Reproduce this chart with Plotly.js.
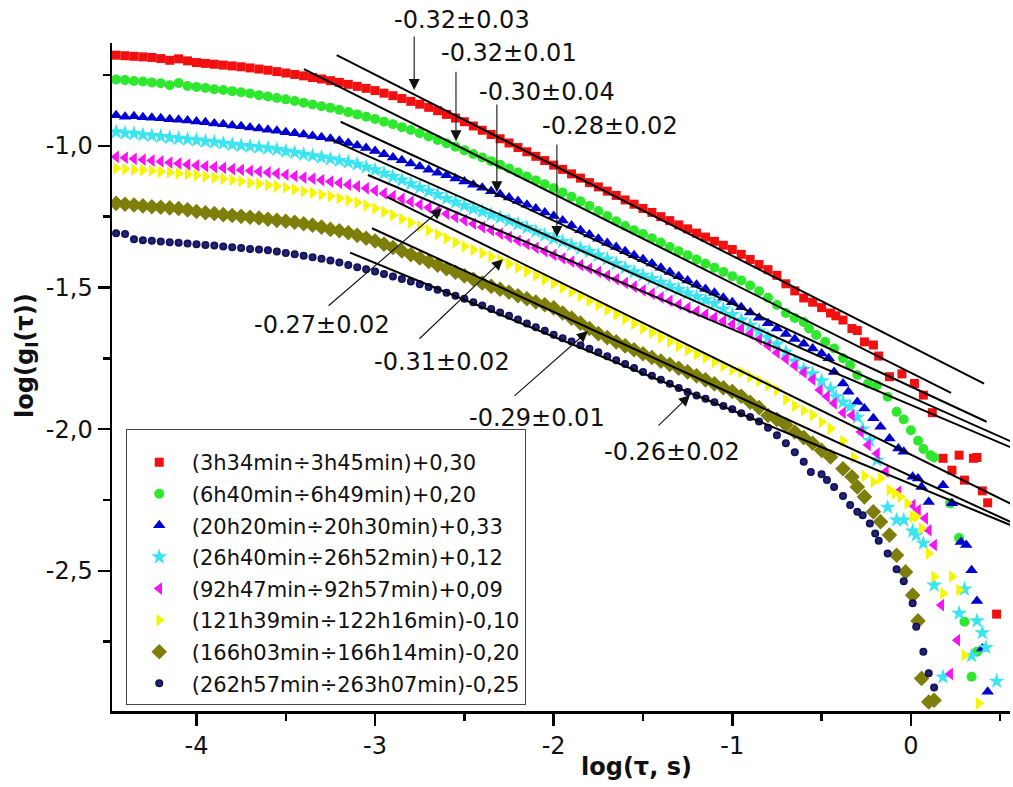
<!DOCTYPE html>
<html>
<head>
<meta charset="utf-8">
<script src="https://cdn.plot.ly/plotly-3.0.1.min.js"></script>
<style>html,body{margin:0;padding:0;background:#fff;}#chart{width:1013px;height:787px;}</style>
</head>
<body>
<div id="chart"></div>
<script>
// shared log(tau) grid of the dense part of every curve
const logTau = [-4.45,-4.40,-4.35,-4.30,-4.25,-4.20,-4.15,-4.10,-4.05,-4.00,-3.95,-3.90,-3.85,-3.80,-3.75,-3.70,-3.65,-3.60,-3.55,-3.50,-3.45,-3.40,-3.35,-3.30,-3.25,-3.20,-3.15,-3.10,-3.05,-3.00,-2.95,-2.90,-2.85,-2.80,-2.75,-2.70,-2.65,-2.60,-2.55,-2.50,-2.45,-2.40,-2.35,-2.30,-2.25,-2.20,-2.15,-2.10,-2.05,-2.00,-1.95,-1.90,-1.85,-1.80,-1.75,-1.70,-1.65,-1.60,-1.55,-1.50,-1.45,-1.40,-1.35,-1.30,-1.25,-1.20,-1.15,-1.10,-1.05,-1.00,-0.95,-0.90,-0.85,-0.80,-0.75,-0.70,-0.65,-0.60];

const seriesNames = ["(3h34min÷3h45min)+0,30","(6h40min÷6h49min)+0,20","(20h20min÷20h30min)+0,33","(26h40min÷26h52min)+0,12","(92h47min÷92h57min)+0,09","(121h39min÷122h16min)-0,10","(166h03min÷166h14min)-0,20","(262h57min÷263h07min)-0,25"];

// series 1 (red)
const redDense = [-0.680,-0.682,-0.684,-0.686,-0.688,-0.692,-0.698,-0.693,-0.700,-0.706,-0.709,-0.712,-0.715,-0.718,-0.721,-0.725,-0.729,-0.733,-0.738,-0.743,-0.748,-0.753,-0.759,-0.764,-0.770,-0.776,-0.783,-0.790,-0.797,-0.805,-0.814,-0.823,-0.833,-0.843,-0.853,-0.864,-0.876,-0.889,-0.902,-0.915,-0.930,-0.945,-0.960,-0.975,-0.990,-1.006,-1.021,-1.037,-1.052,-1.068,-1.083,-1.099,-1.114,-1.130,-1.145,-1.160,-1.175,-1.191,-1.206,-1.221,-1.235,-1.250,-1.264,-1.279,-1.293,-1.308,-1.322,-1.337,-1.351,-1.366,-1.383,-1.401,-1.419,-1.437,-1.457,-1.487,-1.512,-1.537];
const redTailX = [-0.55,-0.50,-0.45,-0.42,-0.38,-0.33,-0.30,-0.26,-0.21,-0.18,-0.12,-0.05,0.02,0.07,0.12,0.18,0.23,0.27,0.30,0.35,0.37,0.40,0.43,0.48];
const redTailY = [-1.552,-1.571,-1.590,-1.600,-1.615,-1.645,-1.652,-1.692,-1.703,-1.742,-1.815,-1.805,-1.839,-1.880,-1.942,-2.103,-2.145,-2.092,-2.180,-2.103,-2.100,-2.218,-2.260,-2.653];

// series 2 (green)
const greenDense = [-0.766,-0.768,-0.771,-0.773,-0.776,-0.779,-0.786,-0.778,-0.789,-0.792,-0.796,-0.800,-0.803,-0.807,-0.811,-0.815,-0.821,-0.826,-0.831,-0.836,-0.842,-0.848,-0.854,-0.860,-0.866,-0.873,-0.881,-0.889,-0.897,-0.905,-0.915,-0.924,-0.934,-0.944,-0.955,-0.967,-0.979,-0.991,-1.003,-1.016,-1.029,-1.041,-1.054,-1.067,-1.080,-1.094,-1.108,-1.122,-1.136,-1.150,-1.165,-1.180,-1.196,-1.212,-1.230,-1.248,-1.266,-1.283,-1.298,-1.311,-1.326,-1.341,-1.357,-1.372,-1.386,-1.401,-1.416,-1.430,-1.445,-1.460,-1.475,-1.493,-1.513,-1.536,-1.562,-1.590,-1.608,-1.622];
const greenTailX = [-0.57,-0.53,-0.48,-0.43,-0.38,-0.34,-0.30,-0.24,-0.19,-0.13,-0.08,-0.04,0.00,0.04,0.07,0.11,0.13,0.22,0.27,0.30,0.34,0.37];
const greenTailY = [-1.645,-1.668,-1.692,-1.715,-1.750,-1.774,-1.809,-1.839,-1.845,-1.886,-1.939,-1.966,-2.004,-2.041,-2.070,-2.092,-2.100,-2.262,-2.384,-2.680,-2.874,-2.786];

// series 3 (blue)
const blueDense = [-0.892,-0.897,-0.896,-0.899,-0.901,-0.903,-0.906,-0.908,-0.911,-0.914,-0.917,-0.921,-0.924,-0.928,-0.931,-0.935,-0.939,-0.943,-0.947,-0.952,-0.956,-0.960,-0.965,-0.970,-0.975,-0.982,-0.990,-0.999,-1.008,-1.018,-1.030,-1.041,-1.051,-1.062,-1.073,-1.084,-1.095,-1.104,-1.115,-1.126,-1.137,-1.148,-1.160,-1.171,-1.182,-1.195,-1.208,-1.221,-1.235,-1.248,-1.264,-1.281,-1.298,-1.313,-1.328,-1.343,-1.357,-1.372,-1.386,-1.400,-1.415,-1.430,-1.445,-1.460,-1.475,-1.490,-1.505,-1.519,-1.536,-1.552,-1.570,-1.588,-1.607,-1.626,-1.645,-1.664,-1.682,-1.699];
const blueTailX = [-0.55,-0.50,-0.46,-0.43,-0.38,-0.35,-0.30,-0.26,-0.21,-0.17,-0.12,-0.07,-0.04,0.01,0.04,0.06,0.10,0.18,0.23,0.28,0.31,0.34,0.37,0.40,0.43];
const blueTailY = [-1.715,-1.733,-1.750,-1.798,-1.839,-1.868,-1.904,-1.927,-1.962,-1.992,-2.033,-2.068,-2.080,-2.168,-2.174,-2.204,-2.257,-2.198,-2.262,-2.398,-2.409,-2.498,-2.607,-2.774,-2.927];

// series 4 (cyan)
const cyanDense = [-0.951,-0.955,-0.957,-0.961,-0.964,-0.967,-0.971,-0.974,-0.977,-0.980,-0.984,-0.987,-0.991,-0.995,-0.999,-1.002,-1.005,-1.008,-1.013,-1.019,-1.024,-1.030,-1.035,-1.040,-1.046,-1.052,-1.058,-1.065,-1.075,-1.085,-1.097,-1.109,-1.121,-1.134,-1.147,-1.160,-1.172,-1.186,-1.199,-1.211,-1.222,-1.232,-1.243,-1.253,-1.264,-1.276,-1.289,-1.302,-1.315,-1.327,-1.338,-1.350,-1.362,-1.373,-1.386,-1.400,-1.416,-1.431,-1.445,-1.457,-1.469,-1.482,-1.494,-1.507,-1.520,-1.532,-1.544,-1.557,-1.576,-1.596,-1.615,-1.634,-1.654,-1.676,-1.700,-1.728,-1.760,-1.789];
const cyanTailX = [-0.55,-0.50,-0.45,-0.42,-0.38,-0.34,-0.30,-0.27,-0.23,-0.19,-0.13,-0.08,-0.04,0.01,0.03,0.07,0.13,0.18,0.27,0.30,0.34,0.37,0.40,0.42,0.48];
const cyanTailY = [-1.805,-1.830,-1.858,-1.886,-1.905,-1.921,-1.958,-2.000,-2.040,-2.109,-2.276,-2.321,-2.321,-2.360,-2.374,-2.403,-2.551,-2.875,-2.650,-2.565,-2.800,-2.677,-2.719,-2.771,-2.890];

// series 5 (magenta)
const magentaDense = [-1.039,-1.042,-1.046,-1.049,-1.052,-1.055,-1.059,-1.062,-1.066,-1.069,-1.072,-1.075,-1.078,-1.082,-1.085,-1.088,-1.091,-1.094,-1.098,-1.102,-1.107,-1.112,-1.116,-1.121,-1.126,-1.131,-1.137,-1.143,-1.150,-1.158,-1.168,-1.177,-1.187,-1.197,-1.207,-1.218,-1.229,-1.240,-1.252,-1.263,-1.275,-1.287,-1.298,-1.310,-1.322,-1.335,-1.347,-1.360,-1.372,-1.385,-1.397,-1.409,-1.421,-1.433,-1.445,-1.458,-1.471,-1.484,-1.497,-1.510,-1.522,-1.535,-1.547,-1.560,-1.572,-1.584,-1.595,-1.606,-1.618,-1.630,-1.645,-1.663,-1.683,-1.705,-1.730,-1.752,-1.776,-1.800];
const magentaTailX = [-0.55,-0.51,-0.47,-0.43,-0.38,-0.33,-0.28,-0.24,-0.19,-0.14,-0.07,0.01,0.04,0.08,0.10,0.13,0.17,0.22,0.26];
const magentaTailY = [-1.825,-1.862,-1.885,-1.909,-1.942,-1.951,-2.010,-2.056,-2.086,-2.150,-2.221,-2.268,-2.286,-2.315,-2.357,-2.409,-2.621,-2.864,-2.745];

// series 6 (yellow)
const yellowDense = [-1.080,-1.082,-1.084,-1.086,-1.088,-1.091,-1.094,-1.097,-1.100,-1.104,-1.108,-1.112,-1.116,-1.120,-1.125,-1.130,-1.134,-1.139,-1.143,-1.148,-1.154,-1.160,-1.166,-1.172,-1.178,-1.185,-1.192,-1.200,-1.210,-1.221,-1.233,-1.245,-1.258,-1.271,-1.284,-1.298,-1.312,-1.327,-1.341,-1.355,-1.367,-1.379,-1.391,-1.403,-1.416,-1.430,-1.444,-1.458,-1.472,-1.486,-1.501,-1.516,-1.531,-1.547,-1.562,-1.579,-1.595,-1.612,-1.628,-1.645,-1.660,-1.676,-1.691,-1.707,-1.722,-1.736,-1.749,-1.763,-1.777,-1.790,-1.799,-1.815,-1.830,-1.846,-1.862,-1.896,-1.918,-1.935];
const yellowTailX = [-0.55,-0.50,-0.45,-0.38,-0.32,-0.26,-0.21,-0.17,-0.12,-0.09,-0.06,-0.02,0.01,0.03,0.06,0.10,0.13,0.18,0.23,0.27,0.30,0.38];
const yellowTailY = [-1.951,-1.975,-1.998,-2.042,-2.100,-2.165,-2.186,-2.174,-2.215,-2.227,-2.239,-2.262,-2.309,-2.309,-2.350,-2.439,-2.521,-2.580,-2.521,-2.568,-2.798,-2.968];

// series 7 (olive)
const oliveDense = [-1.203,-1.206,-1.209,-1.212,-1.215,-1.217,-1.219,-1.221,-1.226,-1.232,-1.236,-1.239,-1.243,-1.246,-1.249,-1.252,-1.255,-1.259,-1.263,-1.266,-1.270,-1.275,-1.280,-1.287,-1.295,-1.300,-1.307,-1.316,-1.326,-1.336,-1.347,-1.359,-1.371,-1.384,-1.396,-1.408,-1.421,-1.434,-1.446,-1.459,-1.471,-1.484,-1.496,-1.506,-1.517,-1.529,-1.540,-1.551,-1.561,-1.572,-1.590,-1.608,-1.626,-1.645,-1.663,-1.677,-1.692,-1.706,-1.720,-1.734,-1.747,-1.760,-1.772,-1.785,-1.798,-1.812,-1.826,-1.840,-1.854,-1.867,-1.884,-1.905,-1.924,-1.952,-1.966,-1.985,-2.010,-2.030];
const oliveTailX = [-0.55,-0.50,-0.45,-0.38,-0.33,-0.30,-0.26,-0.21,-0.17,-0.12,-0.08,-0.03,0.01,0.04,0.06,0.10,0.13];
const oliveTailY = [-2.050,-2.075,-2.098,-2.140,-2.168,-2.204,-2.239,-2.292,-2.327,-2.374,-2.445,-2.504,-2.586,-2.677,-2.880,-2.963,-2.957];

// series 8 (navy)
const navyDense = [-1.309,-1.311,-1.330,-1.333,-1.335,-1.338,-1.340,-1.342,-1.345,-1.347,-1.350,-1.352,-1.355,-1.358,-1.361,-1.364,-1.366,-1.369,-1.373,-1.378,-1.383,-1.388,-1.393,-1.399,-1.405,-1.412,-1.421,-1.429,-1.436,-1.444,-1.452,-1.461,-1.470,-1.479,-1.489,-1.498,-1.508,-1.519,-1.529,-1.540,-1.552,-1.564,-1.576,-1.588,-1.600,-1.613,-1.627,-1.640,-1.653,-1.667,-1.679,-1.691,-1.704,-1.716,-1.729,-1.743,-1.757,-1.770,-1.784,-1.798,-1.812,-1.826,-1.840,-1.855,-1.869,-1.881,-1.893,-1.905,-1.918,-1.930,-1.944,-1.957,-1.973,-1.995,-2.022,-2.050,-2.082,-2.115];
const navyTailX = [-0.56,-0.50,-0.47,-0.43,-0.38,-0.34,-0.30,-0.27,-0.23,-0.20,-0.18,-0.13,-0.08,-0.04,0.01,0.03,0.07,0.10,0.13];
const navyTailY = [-2.151,-2.159,-2.180,-2.204,-2.236,-2.268,-2.292,-2.304,-2.333,-2.368,-2.394,-2.439,-2.495,-2.537,-2.615,-2.698,-2.786,-2.862,-2.912];

// power-law fit lines (start and end points) and their slope labels
const fitStartX = [-3.215,-3.398,-3.193,-3.25,-3.04,-2.935,-3.017,-3.14];
const fitStartY = [-0.680,-0.729,-0.915,-0.977,-1.103,-1.180,-1.291,-1.377];
const fitEndX   = [0.41,0.225,0.424,0.57,0.57,0.57,0.57,0.57];
const fitEndY   = [-1.839,-1.872,-1.974,-2.046,-2.067,-2.267,-2.331,-2.342];
const fitLabels = ["-0.32±0.03","-0.32±0.01","-0.30±0.04","-0.28±0.02","-0.27±0.02","-0.31±0.02","-0.29±0.01","-0.26±0.02"];

const xTickVals = [-4,-3,-2,-1,0];
const xTickText = ["-4","-3","-2","-1","0"];
const yTickVals = [-1.0,-1.5,-2.0,-2.5];
const yTickText = ["-1,0","-1,5","-2,0","-2,5"];

const dense = [redDense,greenDense,blueDense,cyanDense,magentaDense,yellowDense,oliveDense,navyDense];
const tailX = [redTailX,greenTailX,blueTailX,cyanTailX,magentaTailX,yellowTailX,oliveTailX,navyTailX];
const tailY = [redTailY,greenTailY,blueTailY,cyanTailY,magentaTailY,yellowTailY,oliveTailY,navyTailY];

const styles = [
  {symbol:'square', color:'#f01010', size:9},
  {symbol:'circle', color:'#2ee82e', size:10},
  {symbol:'triangle-up', color:'#0000d0', size:11},
  {symbol:'star', color:'#3ae4f0', size:12},
  {symbol:'triangle-left', color:'#f414f4', size:11},
  {symbol:'triangle-right', color:'#f6f600', size:11},
  {symbol:'diamond', color:'#7e7e0a', size:12},
  {symbol:'circle', color:'#0a0a58', size:8, gradient:{type:'radial', color:'#2e2e78'}}
];

const traces = [];
for (let i = 0; i < 8; i++) {
  const mk = {symbol:styles[i].symbol, color:styles[i].color, size:styles[i].size, line:{width:0}};
  if (styles[i].gradient) mk.gradient = styles[i].gradient;
  traces.push({
    type:'scatter', mode:'markers', name:seriesNames[i], legendgroup:'g'+i,
    x: logTau.concat(tailX[i]), y: dense[i].concat(tailY[i]),
    marker:mk, cliponaxis:true
  });
}
for (let i = 0; i < 8; i++) {
  traces.push({
    type:'scatter', mode:'lines', showlegend:false, hoverinfo:'skip',
    x:[fitStartX[i], fitEndX[i]], y:[fitStartY[i], fitEndY[i]],
    line:{color:'#000', width:2}
  });
}

// label centres in paper fractions of the plot area
const textPos = [[0.3902,1.0344],[0.4426,0.9850],[0.4849,0.9266],[0.5550,0.8757],[0.2333,0.5778],[0.3675,0.5224],[0.4733,0.4386],[0.6236,0.3877]];
const arrows = [
  [-2.781,-0.609,-2.781,-0.803],
  [-2.547,-0.733,-2.547,-0.984],
  [-2.318,-0.849,-2.318,-1.164],
  [-1.982,-0.990,-1.982,-1.322],
  [-3.269,-1.569,-2.625,-1.220],
  [-2.760,-1.686,-2.284,-1.400],
  [-2.228,-1.887,-1.808,-1.654],
  [-1.422,-1.993,-1.237,-1.880]
];
const annotations = [];
for (let i = 0; i < 8; i++) {
  annotations.push({
    xref:'paper', yref:'paper', x:textPos[i][0], y:textPos[i][1], text:fitLabels[i],
    xanchor:'center', yanchor:'middle',
    showarrow:false, font:{family:'DejaVu Sans', size:24, color:'#111'}
  });
  annotations.push({
    xref:'x', yref:'y', axref:'x', ayref:'y',
    x:arrows[i][2], y:arrows[i][3], ax:arrows[i][0], ay:arrows[i][1],
    text:'', showarrow:true, arrowhead:2, arrowsize:2, arrowwidth:1.1, arrowcolor:'#111'
  });
}
// axis titles
annotations.push({
  xref:'paper', yref:'paper', x:0.5846, y:-0.0838, xanchor:'center', yanchor:'middle',
  text:'log(τ, s)', showarrow:false,
  font:{family:'DejaVu Sans', size:24, color:'#111', weight:'bold'}
});
annotations.push({
  xref:'paper', yref:'paper', x:-0.0947, y:0.533, xanchor:'center', yanchor:'middle',
  text:'log(g<sub>I</sub>(τ))', textangle:-90, showarrow:false,
  font:{family:'DejaVu Sans', size:24, color:'#111', weight:'bold'}
});

const layout = {
  width:1013, height:787,
  margin:{l:112, r:3, t:43, b:76},
  paper_bgcolor:'#fff', plot_bgcolor:'#fff',
  showlegend:true,
  legend:{
    x:0.0153, y:0.4217, xanchor:'left', yanchor:'top',
    bordercolor:'#444', borderwidth:1, bgcolor:'#fff',
    font:{family:'DejaVu Sans', size:21, color:'#111'},
    title:{text:' ', font:{family:'DejaVu Sans', size:9}},
    itemwidth:55, tracegroupgap:1.3
  },
  xaxis:{
    range:[-4.473,0.555], showline:true, linecolor:'#000', linewidth:2.5,
    zeroline:false, showgrid:false, mirror:false,
    ticks:'outside', ticklen:12, tickwidth:2.5, tickcolor:'#000',
    tickmode:'array', tickvals:xTickVals, ticktext:xTickText,
    tickfont:{family:'DejaVu Sans', size:24, color:'#111'},
    minor:{tickmode:'linear', tick0:0.5, dtick:1, ticks:'outside', ticklen:7, tickwidth:2.5, tickcolor:'#000', showgrid:false},
    automargin:false
  },
  yaxis:{
    range:[-2.995,-0.637], showline:true, linecolor:'#000', linewidth:2.5,
    zeroline:false, showgrid:false, mirror:false,
    ticks:'outside', ticklen:12, tickwidth:2.5, tickcolor:'#000',
    tickmode:'array', tickvals:yTickVals, ticktext:yTickText,
    tickfont:{family:'DejaVu Sans', size:24, color:'#111'},
    minor:{tickmode:'linear', tick0:-0.75, dtick:0.5, ticks:'outside', ticklen:7, tickwidth:2.5, tickcolor:'#000', showgrid:false},
    automargin:false
  },
  annotations:annotations
};

Plotly.newPlot('chart', traces, layout, {displayModeBar:false, staticPlot:true});
</script>
</body>
</html>
